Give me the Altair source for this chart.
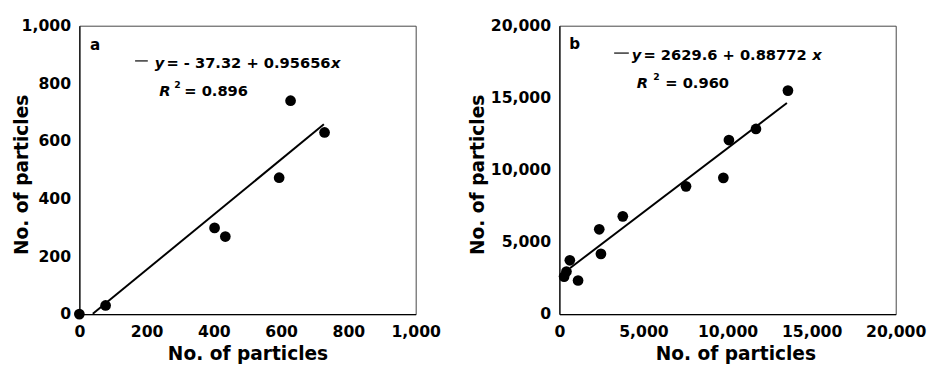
import altair as alt
import pandas as pd

# ---------------- data ----------------
a_x = [0, 78, 402, 434, 594, 628, 729]
a_y = [0, 30, 299, 269, 473, 740, 630]
a_fit = {"intercept": -37.32, "slope": 0.95656, "x": [40, 727]}

b_x = [280, 420, 620, 1110, 2370, 2470, 3770, 7530, 9750, 10080, 11690, 13590]
b_y = [2600, 2950, 3730, 2330, 5880, 4180, 6780, 8860, 9450, 12070, 12840, 15500]
b_fit = {"intercept": 2629.6, "slope": 0.88772, "x": [640, 13530]}

a_ticks = [0, 200, 400, 600, 800, 1000]
b_ticks = [0, 5000, 10000, 15000, 20000]

axis_title = "No. of particles"
a_eq = ["a", "y", "= - 37.32 + 0.95656", "x", "R", "2", "= 0.896"]
b_eq = ["b", "y", "= 2629.6 + 0.88772", "x", "R", "2", "= 0.960"]

FONT = "DejaVu Sans"
W, H = 344, 295


def txt(s, x, y, size=15, italic=False):
    return alt.Chart(pd.DataFrame({"t": [s]})).mark_text(
        align="left", baseline="alphabetic", font=FONT, fontSize=size,
        fontWeight="bold", fontStyle="italic" if italic else "normal",
        color="black",
    ).encode(text="t:N", x=alt.value(x), y=alt.value(y))


def dash(x1, x2, y):
    return alt.Chart(pd.DataFrame({"k": [0]})).mark_rule(
        color="#333333", strokeWidth=1.5
    ).encode(x=alt.value(x1), x2=alt.value(x2), y=alt.value(y))


def panel(xs, ys, fit, ticks, labels, pos, title_x_off):
    dom = [ticks[0], ticks[-1]]
    xaxis = alt.Axis(values=ticks, format=",.0f", title=axis_title, titleY=46.5,
                     titleX=W / 2 + title_x_off,
                     titleBaseline="alphabetic", labelPadding=10)
    yaxis = alt.Axis(values=ticks, format=",.0f", title=axis_title,
                     titleX=pos["ytitle"], titleY=152,
                     titleBaseline="alphabetic", labelPadding=9)
    xs_ = alt.Scale(domain=dom, nice=False)
    ys_ = alt.Scale(domain=dom, nice=False)

    pts = alt.Chart(pd.DataFrame({"x": xs, "y": ys})).mark_circle(
        size=120, color="black", opacity=1
    ).encode(x=alt.X("x:Q", scale=xs_, axis=xaxis),
             y=alt.Y("y:Q", scale=ys_, axis=yaxis))

    line = alt.Chart(pd.DataFrame({"x": fit["x"]})).transform_calculate(
        y=f"{fit['intercept']} + {fit['slope']} * datum.x"
    ).mark_line(color="black", strokeWidth=2).encode(
        x=alt.X("x:Q", scale=xs_), y=alt.Y("y:Q", scale=ys_))

    p = pos
    layers = [
        line, pts,
        txt(labels[0], p["lab"][0], p["lab"][1], size=15.5),
        dash(p["dash"][0], p["dash"][1], p["dash"][2]),
        txt(labels[1], p["y"], p["eqb"], italic=True),
        txt(labels[2], p["eq"], p["eqb"]),
        txt(labels[3], p["xx"], p["eqb"], italic=True),
        txt(labels[4], p["R"], p["rb"], italic=True),
        txt(labels[5], p["two"], p["rb"] - 8.3, size=9.5),
        txt(labels[6], p["req"], p["rb"]),
    ]
    return alt.layer(*layers).properties(width=W, height=H)


pos_a = {"ytitle": -52.6, "lab": (11, 25), "dash": (57, 70, 36), "y": 77,
         "eq": 89, "xx": 257.5, "eqb": 43.5, "R": 81.7, "two": 97,
         "req": 107.3, "rb": 72}
pos_b = {"ytitle": -77.6, "lab": (10, 24), "dash": (56, 71, 28), "y": 74,
         "eq": 86, "xx": 258.5, "eqb": 35.5, "R": 79, "two": 96,
         "req": 108.3, "rb": 64}

chart = alt.hconcat(
    panel(a_x, a_y, a_fit, a_ticks, a_eq, pos_a, 0),
    panel(b_x, b_y, b_fit, b_ticks, b_eq, pos_b, 8),
    spacing=27,
).properties(
    padding={"left": 4, "top": 5, "right": 0, "bottom": 0}
).configure_view(
    stroke="#444444", strokeWidth=1
).configure_axis(
    labelFont=FONT, labelFontWeight="bold", labelFontSize=16, labelColor="black",
    titleFont=FONT, titleFontWeight="bold", titleFontSize=19, titleColor="black",
    ticks=False, grid=False, domainColor="black", domainWidth=1.2,
    labelFlush=False, labelOverlap=False,
)

chart.save("out.html", embed_options={"renderer": "svg", "actions": False})
